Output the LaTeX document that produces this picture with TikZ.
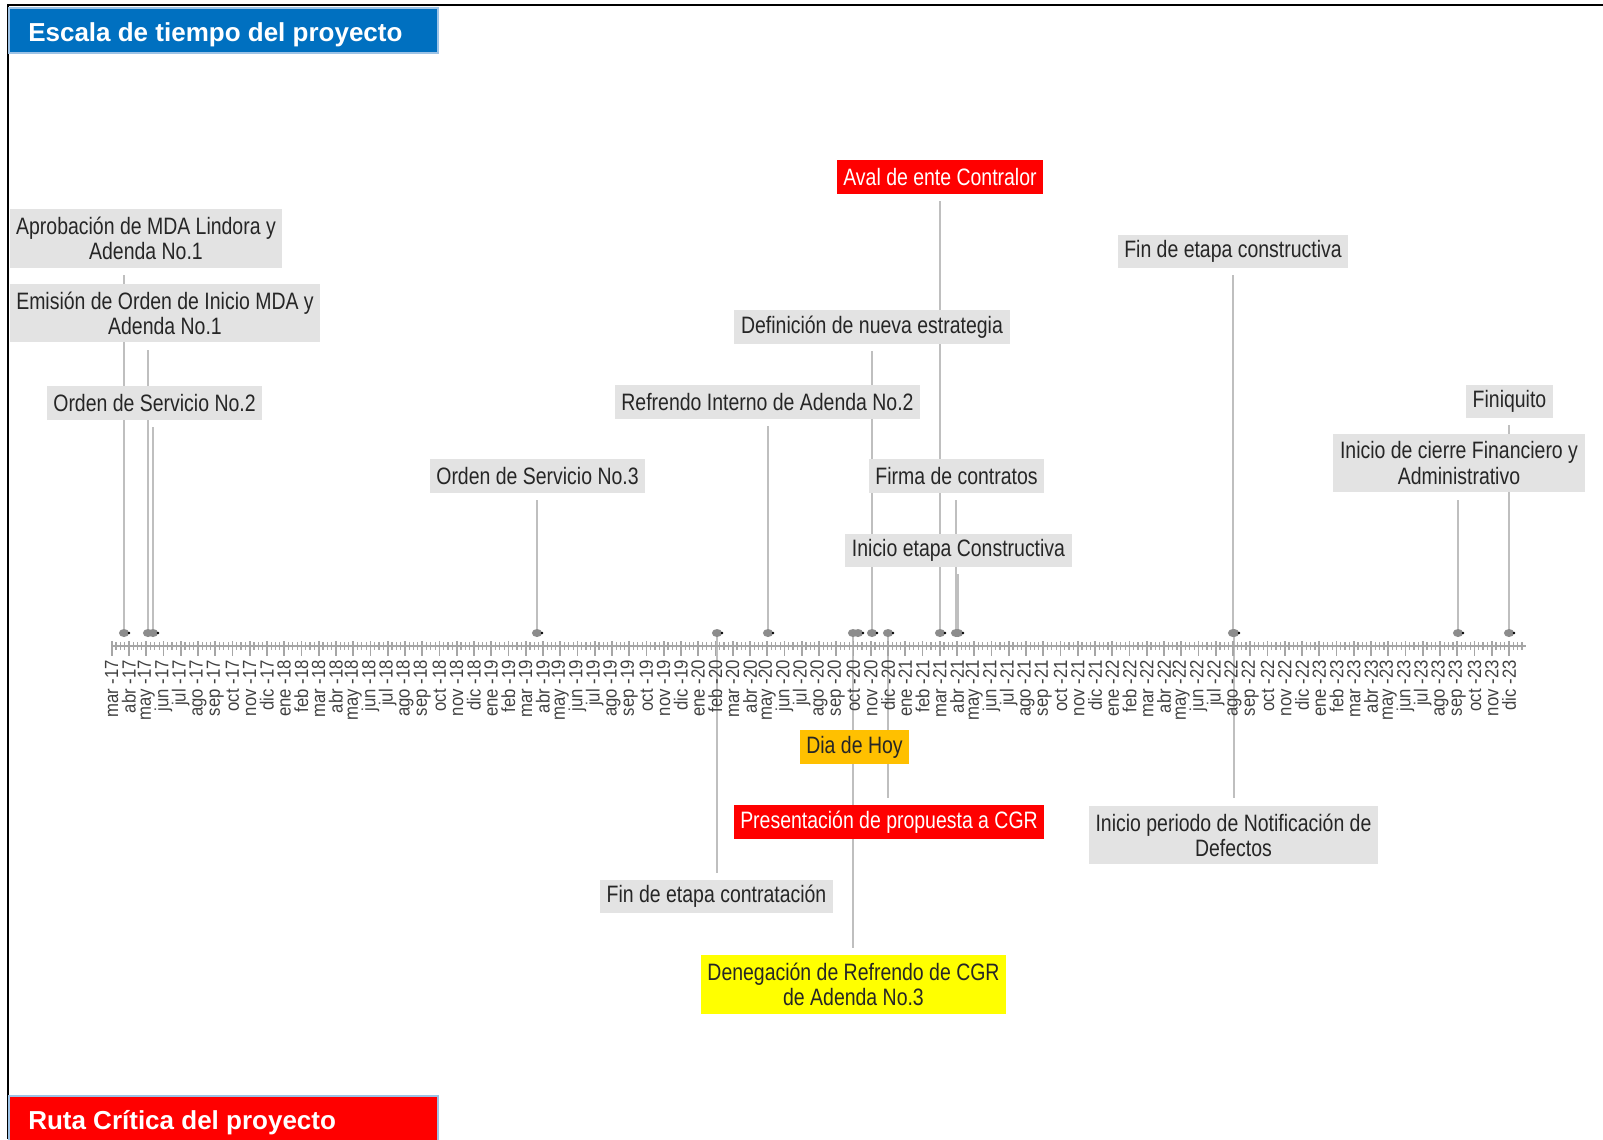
\documentclass[tikz,border=0pt]{standalone}
\usepackage{fontspec}
\setmainfont{Liberation Sans}
\newfontfamily\evfont[FakeStretch=0.82]{Liberation Sans}
\newfontfamily\mesfont[FakeStretch=0.88]{Liberation Sans}
\usetikzlibrary{calc, positioning}

\pgfdeclarelayer{fondo}
\pgfsetlayers{fondo,main}

\definecolor{ejegris}{HTML}{A6A6A6}
\definecolor{tallogris}{HTML}{BFBFBF}
\definecolor{marcagris}{HTML}{8C8C8C}
\definecolor{cajagris}{HTML}{E3E3E3}
\definecolor{textogris}{HTML}{262626}
\definecolor{mesgris}{HTML}{404040}
\definecolor{azultitulo}{HTML}{0070C0}
\definecolor{bordeazul}{HTML}{9DC3E6}
\definecolor{rojo}{HTML}{FF0000}
\definecolor{naranja}{HTML}{FFC000}
\definecolor{amarillo}{HTML}{FFFF00}

\newcommand\nombremes[1]{\ifcase#1 ene\or feb\or mar\or abr\or may\or jun\or jul\or ago\or sep\or oct\or nov\or dic\fi}

\begin{document}
\begin{tikzpicture}[
        x=0.75pt, y=-0.75pt,
        evento/.style={fill=cajagris, text=textogris, align=center,
            font=\evfont\fontsize{17.8}{18.8}\selectfont,
            inner xsep=5pt, inner ysep=2pt, minimum height=25pt},
        doble/.style={minimum height=44pt},
        alerta/.style={evento, fill=rojo, text=white},
        hoy/.style={evento, fill=naranja},
        denegado/.style={evento, fill=amarillo},
        tallo/.style={draw=tallogris, line width=1.5pt},
        eje/.style={draw=ejegris, line width=2.2pt},
        titulo/.style={anchor=base west, inner sep=0pt, text=white,
            font=\bfseries\fontsize{19.5}{22}\selectfont},
        mes/.style={rotate=90, anchor=east, inner sep=0pt, text=mesgris,
            font=\mesfont\fontsize{14.25}{15}\selectfont},
    ]

    \useasboundingbox (0,0) rectangle (1603,1139);

    \def\xini{111.7}
    \def\dx{17.25}
    \def\yeje{646}
    \def\ymarca{633}

    % marco y titulos
    \draw[line width=2pt] (8,1139) -- (8,5) -- (1603,5);

    \filldraw[fill=azultitulo, draw=bordeazul, line width=0.8pt] (9,8) rectangle (438,53);
    \node[titulo] (escala) at (28,41) {Escala de tiempo del proyecto};

    \filldraw[fill=rojo, draw=bordeazul, line width=0.8pt] (9,1096) rectangle (438,1160);
    \node[titulo] (ruta) at (28,1129) {Ruta Crítica del proyecto};

    % eje de meses
    \draw[eje] (\xini,\yeje) -- (\xini+82*\dx,\yeje);
    \foreach \j in {0,...,327}
        \draw[draw=ejegris, line width=0.9pt] (\xini+\j*\dx/4,\yeje-4) -- (\xini+\j*\dx/4,\yeje+4);
    \foreach \i in {0,...,81} {
        \pgfmathtruncatemacro{\m}{mod(\i+2,12)}
        \pgfmathtruncatemacro{\yy}{17+floor((\i+2)/12)}
        \draw[draw=ejegris, line width=1.3pt] (\xini+\i*\dx,\yeje-5) -- (\xini+\i*\dx,\yeje+10);
        \node[mes] (mes\i) at (\xini+\i*\dx,660) {\nombremes{\m} -\yy};
    }

    % eventos
    \node[evento, doble] (aprob) at (146,238.5) {Aprobación de MDA Lindora y\\Adenda No.1};
    \node[evento, doble] (emision) at (165,313) {Emisión de Orden de Inicio MDA y\\Adenda No.1};
    \node[evento] (os2) at (154.5,403) {Orden de Servicio No.2};
    \node[evento] (os3) at (537.5,476) {Orden de Servicio No.3};
    \node[evento] (refrendo) at (767.5,402) {Refrendo Interno de Adenda No.2};
    \node[evento] (definicion) at (872,327) {Definición de nueva estrategia};
    \node[alerta] (aval) at (940,177) {Aval de ente Contralor};
    \node[evento] (firma) at (956.5,476) {Firma de contratos};
    \node[evento] (inicioc) at (958.5,550.5) {Inicio etapa Constructiva};
    \node[evento] (finc) at (1233,251.5) {Fin de etapa constructiva};
    \node[evento] (finiquito) at (1509.5,401.5) {Finiquito};
    \node[evento, doble] (cierre) at (1459,463) {Inicio de cierre Financiero y\\Administrativo};

    \node[hoy] (hoy) at (854.5,747) {Dia de Hoy};
    \node[alerta] (presenta) at (889,822) {Presentación de propuesta a CGR};
    \node[evento] (fincontr) at (716.5,896.5) {Fin de etapa contratación};
    \node[evento, doble] (notif) at (1233.5,835) {Inicio periodo de Notificación de\\Defectos};
    \node[denegado, doble] (deneg) at (853.5,984.5) {Denegación de Refrendo de CGR\\de Adenda No.3};

    % fechas de los eventos
    \coordinate (m-aprob) at (124,\ymarca);
    \coordinate (m-emision) at (148,\ymarca);
    \coordinate (m-os2) at (153,\ymarca);
    \coordinate (m-os3) at (537,\ymarca);
    \coordinate (m-fincontr) at (717,\ymarca);
    \coordinate (m-refrendo) at (768,\ymarca);
    \coordinate (m-deneg) at (853,\ymarca);
    \coordinate (m-hoy) at (858,\ymarca);
    \coordinate (m-definicion) at (872,\ymarca);
    \coordinate (m-presenta) at (888,\ymarca);
    \coordinate (m-aval) at (940,\ymarca);
    \coordinate (m-firma) at (956,\ymarca);
    \coordinate (m-inicioc) at (958,\ymarca);
    \coordinate (m-finc) at (1233,\ymarca);
    \coordinate (m-notif) at (1234,\ymarca);
    \coordinate (m-cierre) at (1458,\ymarca);
    \coordinate (m-finiquito) at (1509,\ymarca);

    \begin{pgfonlayer}{fondo}
        \foreach \e in {aprob, emision, os2, os3, refrendo, definicion, aval,
                firma, inicioc, finc, cierre, finiquito}
            \draw[tallo] (m-\e) -- ($(m-\e |- \e.south)+(0,7)$);
        \foreach \e in {fincontr, presenta, notif, deneg}
            \draw[tallo] (m-\e) -- ($(m-\e |- \e.north)+(0,-7)$);
    \end{pgfonlayer}

    \foreach \e in {aprob, emision, os2, os3, fincontr, refrendo, deneg, hoy,
            definicion, presenta, aval, firma, inicioc, finc, notif, cierre, finiquito} {
        \fill[marcagris] (m-\e) ellipse [x radius=3.8pt, y radius=3pt];
        \fill[black] ($(m-\e)+(5,0)$) circle [radius=1pt];
    }

\end{tikzpicture}
\end{document}
